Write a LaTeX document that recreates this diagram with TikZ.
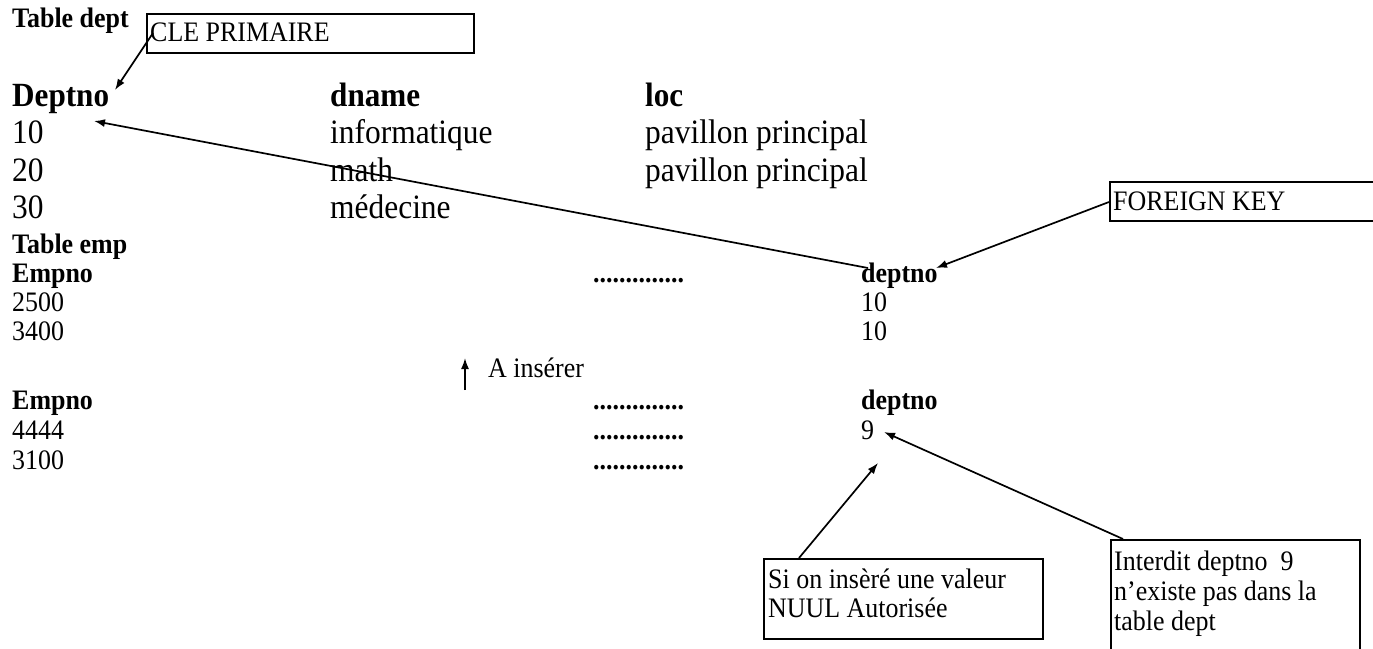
\documentclass[tikz,border=0pt]{standalone}
\usepackage{fontspec}
\setmainfont{Liberation Serif}[FakeStretch=0.92]
\usetikzlibrary{arrows.meta}
\begin{document}
\begin{tikzpicture}[x=1bp,y=-1bp,
  big/.style={anchor=base west,inner sep=0pt,font=\fontsize{34.3}{36}\selectfont},
  bigb/.style={big,font=\fontsize{34}{36}\selectfont\bfseries},
  sm/.style={anchor=base west,inner sep=0pt,font=\fontsize{28.3}{30}\selectfont},
  smb/.style={sm,font=\fontsize{28.3}{30}\selectfont\bfseries},
  note/.style={anchor=base west,inner sep=0pt,font=\fontsize{28.3}{30}\selectfont},
  boxr/.style={draw,line width=2bp,anchor=north west,inner sep=0pt},
  arr/.style={-{Latex[length=11bp,width=8bp]},line width=1.7bp}]
\useasboundingbox (0,0) rectangle (1373,649);
\clip (0,0) rectangle (1373,649);
% dept table
\node[smb] (tdept) at (12,28) {Table dept};
\node[boxr,minimum width=327bp,minimum height=39bp] (clebox) at (146,13) {};
\node[note] (cle) at (150,42) {CLE PRIMAIRE};
\coordinate (cleA) at (153,33);
\node[bigb] (hdeptno) at (12,107) {Deptno};
\node[bigb] (hdname) at (330,107) {dname};
\node[bigb] (hloc) at (645,107) {loc};
\node[big] (d10) at (12,143) {10};
\node[big] (n10) at (330,143) {informatique};
\node[big] (l10) at (645,143) {pavillon principal};
\node[big] (d20) at (12,181) {20};
\node[big] (n20) at (330,181) {math};
\node[big] (l20) at (645,181) {pavillon principal};
\node[big] (d30) at (12,218) {30};
\node[big] (n30) at (330,218) {médecine};
% emp table
\node[smb] (temp) at (12,253) {Table emp};
\node[smb] (e1) at (12,282) {Empno};
\node[smb] (dots1) at (593,282) {..............};
\node[smb] (dep1) at (861,282) {deptno};
\node[sm] (r1) at (12,311) {2500};
\node[sm] (r1d) at (861,311) {10};
\node[sm] (r2) at (12,340) {3400};
\node[sm] (r2d) at (861,340) {10};
\coordinate (upA) at (465,390);
\coordinate (upB) at (465,358);
\node[note] (ins) at (488,377) {A insérer};
\node[smb] (e2) at (12,409) {Empno};
\node[smb] (dots2) at (593,409) {..............};
\node[smb] (dep2) at (861,409) {deptno};
\node[sm] (r3) at (12,439) {4444};
\node[smb] (dots3) at (593,439) {..............};
\node[sm] (r3d) at (861,439) {9};
\node[sm] (r4) at (12,469) {3100};
\node[smb] (dots4) at (593,469) {..............};
% foreign key box
\node[boxr,minimum width=290bp,minimum height=39bp] (fkbox) at (1109,181) {};
\node[note] (fk) at (1113,210) {FOREIGN KEY};
\coordinate (fkA) at (1109,202);
% NUUL box
\node[boxr,minimum width=279bp,minimum height=80bp] (nubox) at (763,558) {};
\node[note] (nu1) at (768,588) {Si on insèré une valeur};
\node[note] (nu2) at (768,617) {NUUL Autorisée};
\coordinate (nuA) at (799,558);
% Interdit box
\node[boxr,minimum width=249bp,minimum height=130bp] (inbox) at (1110,539) {};
\node[note] (in1) at (1114,570) {Interdit deptno\ \ 9};
\node[note] (in2) at (1114,600) {n’existe pas dans la};
\node[note] (in3) at (1114,630) {table dept};
\coordinate (inA) at (1123,539);
% arrow ends
\coordinate (deptTip) at (115,90);
\coordinate (tenTip) at (94,121);
\coordinate (depFrom) at (868,268);
\coordinate (depTip) at (936,268);
\coordinate (nuB) at (878,463);
\coordinate (nineTip) at (884,432);
% arrows
\draw[arr] (cleA) -- (deptTip);
\draw[arr] (depFrom) -- (tenTip);
\draw[arr] (fkA) -- (depTip);
\draw[arr] (upA) -- (upB);
\draw[arr] (nuA) -- (nuB);
\draw[arr] (inA) -- (nineTip);
\end{tikzpicture}
\end{document}
